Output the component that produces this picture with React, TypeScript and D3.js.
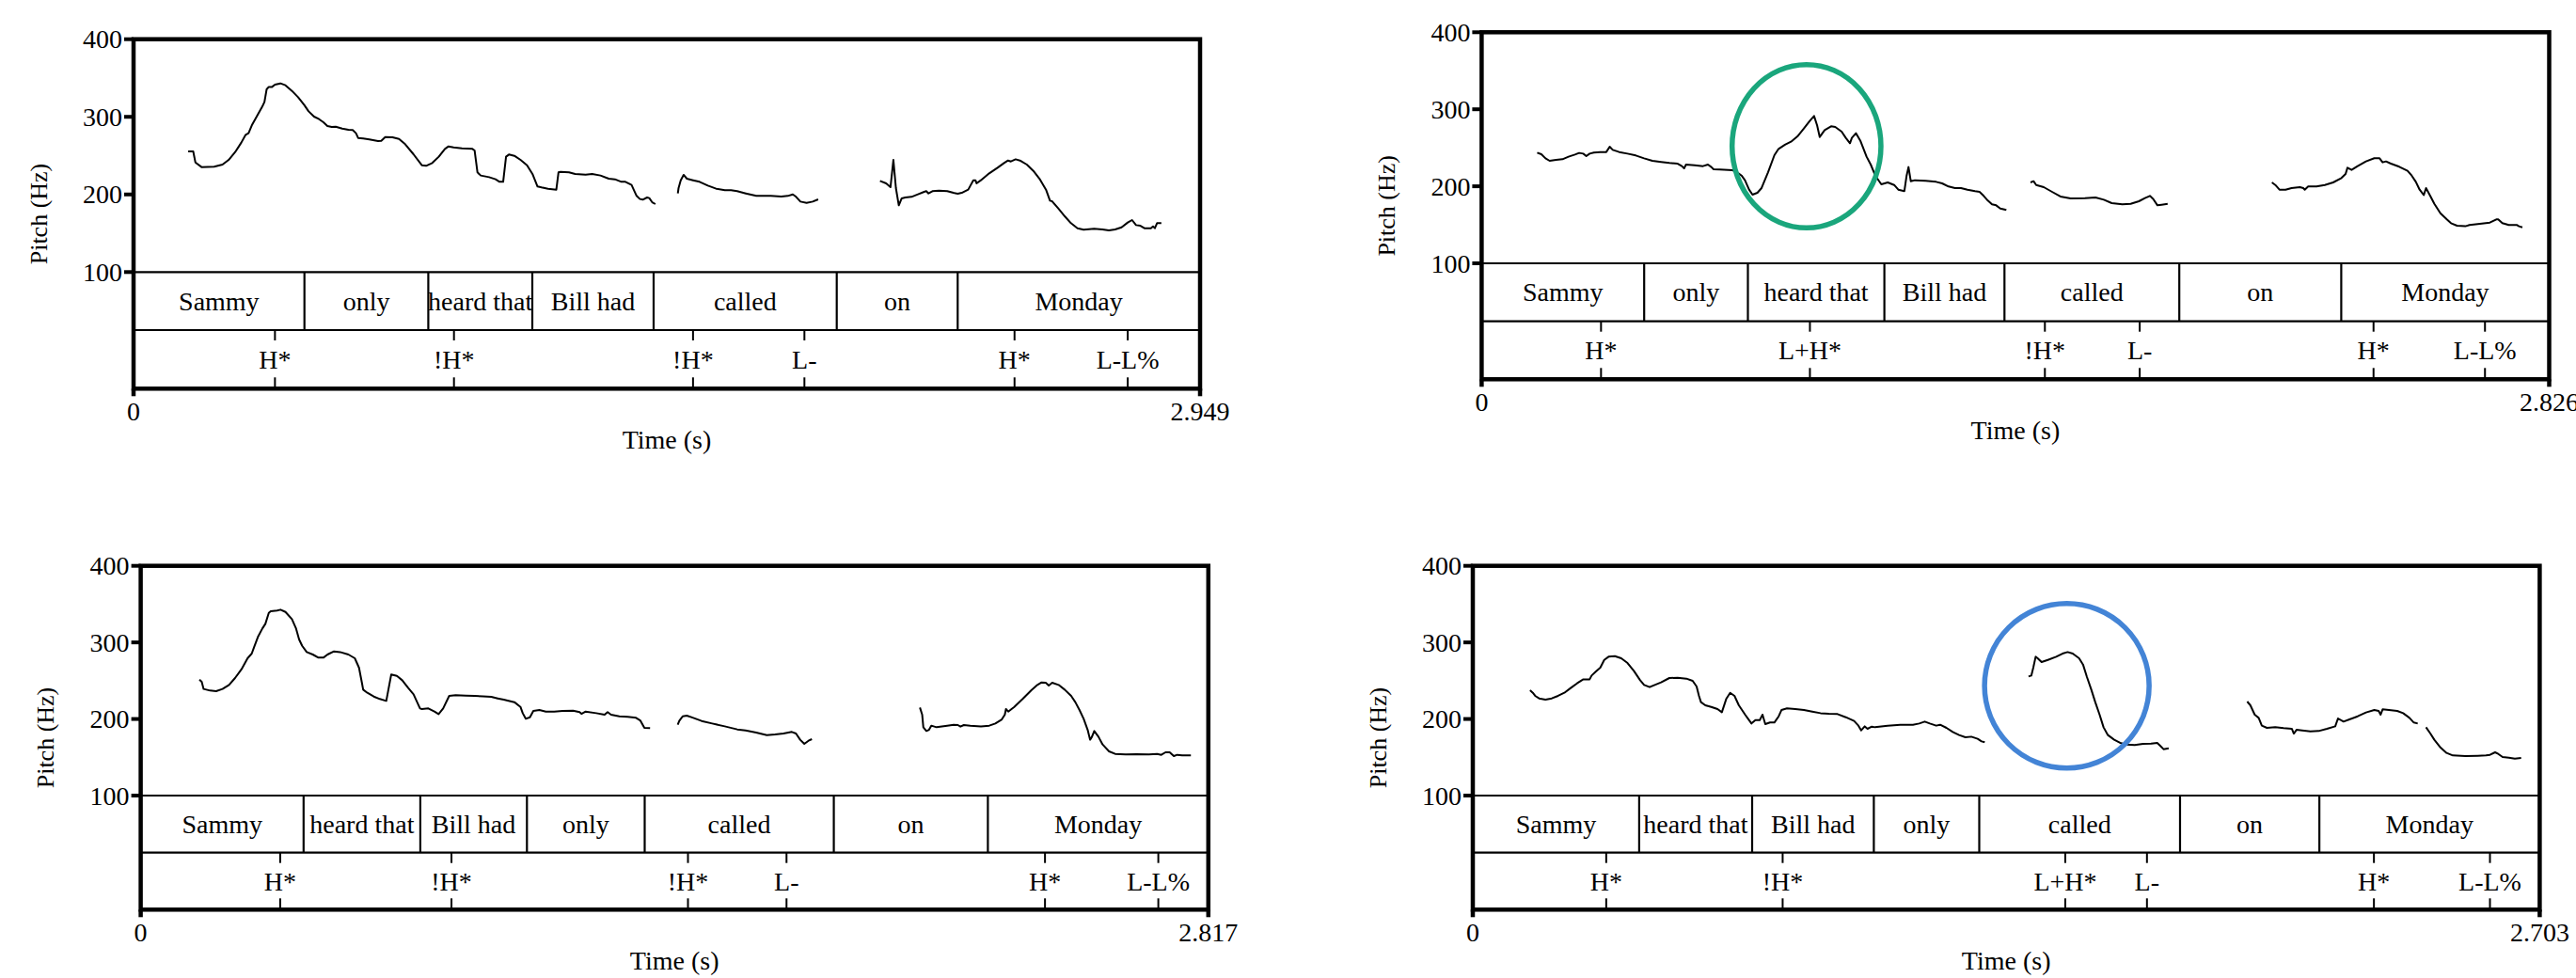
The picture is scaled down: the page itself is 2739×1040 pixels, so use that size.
import React, { useEffect } from 'react';
import * as d3 from 'd3';

type Pt = [number, number];

// ---------- Panel 1 (top-left) ----------
const p1Duration = 2.949;
const p1Words = ['Sammy', 'only', 'heard that', 'Bill had', 'called', 'on', 'Monday'];
const p1Bounds = [0, 0.4725, 0.815, 1.1026, 1.438, 1.9444, 2.2788, 2.949];
const p1Tones = ['H*', '!H*', '!H*', 'L-', 'H*', 'L-L%'];
const p1ToneTimes = [0.391, 0.886, 1.547, 1.855, 2.436, 2.749];
const p1SegA: Pt[] = [[0.151,255.4],[0.165,255.4],[0.171,241.3],[0.188,235.3],[0.223,235.7],[0.246,238.5],[0.263,244.5],[0.281,254.6],[0.298,266.8],[0.310,276.9],[0.318,278.9],[0.327,289.0],[0.339,299.1],[0.356,313.2],[0.362,319.3],[0.368,335.4],[0.374,338.6],[0.383,338.6],[0.391,341.5],[0.406,343.1],[0.420,340.7],[0.438,333.4],[0.455,325.3],[0.472,315.2],[0.484,307.1],[0.499,300.3],[0.513,297.0],[0.525,293.0],[0.536,288.2],[0.548,286.9],[0.559,287.3],[0.577,284.9],[0.594,283.3],[0.606,282.9],[0.615,278.9],[0.621,272.8],[0.635,272.0],[0.652,270.8],[0.676,268.8],[0.685,269.2],[0.696,274.0],[0.716,273.6],[0.734,271.6],[0.751,264.7],[0.774,251.8],[0.797,237.7],[0.809,236.9],[0.826,240.5],[0.844,248.6],[0.861,258.7],[0.871,261.9],[0.885,260.7],[0.908,259.5],[0.937,258.7],[0.943,256.7],[0.951,228.4],[0.960,224.4],[0.983,222.3],[1.001,219.5],[1.012,216.3],[1.022,216.3],[1.030,248.6],[1.038,251.4],[1.053,249.8],[1.070,244.5],[1.088,237.7],[1.103,226.4],[1.117,210.2],[1.128,209.0],[1.146,207.4],[1.169,206.2],[1.175,228.4],[1.181,229.2],[1.204,228.4],[1.221,226.4],[1.250,225.6],[1.268,226.4],[1.291,224.4],[1.314,220.3],[1.331,219.5],[1.349,216.3],[1.360,216.3],[1.377,212.2],[1.385,204.2],[1.391,198.1],[1.400,194.1],[1.408,193.3],[1.420,196.1],[1.426,195.3],[1.434,190.0],[1.443,187.6]];
const p1SegB: Pt[] = [[1.505,201.3],[1.507,208.2],[1.513,218.3],[1.521,225.2],[1.530,220.3],[1.547,218.3],[1.565,216.3],[1.588,211.4],[1.611,207.4],[1.635,205.4],[1.652,205.4],[1.669,204.2],[1.693,201.3],[1.722,198.1],[1.762,198.1],[1.791,197.3],[1.809,198.1],[1.823,200.1],[1.832,196.9],[1.844,190.8],[1.861,189.2],[1.878,190.8],[1.893,193.7]];
const p1SegC: Pt[] = [[2.064,217.5],[2.081,214.2],[2.093,209.4],[2.101,244.5],[2.108,208.2],[2.116,186.0],[2.124,194.9],[2.134,196.1],[2.151,196.9],[2.169,200.1],[2.186,203.3],[2.192,204.2],[2.198,201.3],[2.209,204.2],[2.227,205.0],[2.250,204.2],[2.267,202.1],[2.279,200.9],[2.290,202.1],[2.308,206.2],[2.314,211.4],[2.322,218.3],[2.328,218.3],[2.331,214.2],[2.343,218.3],[2.366,227.2],[2.389,234.4],[2.407,240.5],[2.418,243.7],[2.426,242.5],[2.439,245.3],[2.453,243.3],[2.470,238.5],[2.488,230.4],[2.505,220.3],[2.523,206.2],[2.534,192.0],[2.540,191.2],[2.557,181.9],[2.575,171.8],[2.592,163.0],[2.610,156.5],[2.627,154.5],[2.656,155.7],[2.679,154.9],[2.697,153.7],[2.714,154.9],[2.732,157.7],[2.749,163.8],[2.761,167.0],[2.772,160.5],[2.784,159.7],[2.795,156.5],[2.813,156.5],[2.819,158.9],[2.824,156.5],[2.830,163.0],[2.842,163.0]];

// ---------- Panel 2 (top-right) ----------
const p2Duration = 2.826;
const p2Words = ['Sammy', 'only', 'heard that', 'Bill had', 'called', 'on', 'Monday'];
const p2Bounds = [0, 0.4302, 0.7048, 1.0661, 1.384, 1.8468, 2.2755, 2.826];
const p2Tones = ['H*', 'L+H*', '!H*', 'L-', 'H*', 'L-L%'];
const p2ToneTimes = [0.316, 0.869, 1.491, 1.742, 2.361, 2.656];
const p2SegA: Pt[] = [[0.147,243.7],[0.158,241.6],[0.169,236.3],[0.180,233.1],[0.197,234.3],[0.214,235.1],[0.230,238.4],[0.247,241.2],[0.258,243.3],[0.269,242.4],[0.277,239.2],[0.286,242.4],[0.297,243.7],[0.314,244.5],[0.330,244.5],[0.339,251.4],[0.347,247.3],[0.364,244.5],[0.386,242.4],[0.408,240.0],[0.430,236.3],[0.452,233.1],[0.475,231.5],[0.497,230.2],[0.519,229.4],[0.530,226.2],[0.536,223.3],[0.541,228.2],[0.564,227.4],[0.586,226.2],[0.599,228.2],[0.608,225.0],[0.614,222.1],[0.630,221.7],[0.653,221.3],[0.664,220.9],[0.675,218.8],[0.688,213.9],[0.697,207.9],[0.708,195.7],[0.717,189.1],[0.730,191.6],[0.741,197.7],[0.758,218.0],[0.775,240.4],[0.786,248.6],[0.803,253.9],[0.819,257.9],[0.836,264.8],[0.853,275.0],[0.869,285.2],[0.880,291.3],[0.888,279.1],[0.895,264.0],[0.908,273.0],[0.925,277.9],[0.936,277.0],[0.953,270.9],[0.964,262.8],[0.975,255.9],[0.980,262.8],[0.991,268.9],[1.003,258.7],[1.019,238.4],[1.030,228.2],[1.042,213.9],[1.058,202.6],[1.075,205.0],[1.092,201.7],[1.103,195.6],[1.119,193.6],[1.125,213.9],[1.130,225.0],[1.136,206.6],[1.147,207.9],[1.175,207.0],[1.203,205.8],[1.219,203.8],[1.236,199.7],[1.253,197.7],[1.269,197.7],[1.286,195.6],[1.306,193.6],[1.318,192.8],[1.329,187.5],[1.340,181.4],[1.351,176.5],[1.362,175.3],[1.373,171.2],[1.389,169.2]];
const p2SegB: Pt[] = [[1.453,205.0],[1.461,206.6],[1.468,201.7],[1.488,198.9],[1.510,192.8],[1.532,186.7],[1.559,184.2],[1.597,184.7],[1.625,185.5],[1.647,182.6],[1.668,178.1],[1.696,176.5],[1.718,177.3],[1.740,180.6],[1.756,184.7],[1.769,187.5],[1.778,183.4],[1.789,175.3],[1.800,176.1],[1.816,177.3]];
const p2SegC: Pt[] = [[2.092,205.0],[2.101,201.7],[2.112,195.6],[2.128,195.6],[2.144,197.7],[2.166,198.9],[2.175,197.7],[2.179,195.6],[2.188,199.7],[2.210,199.7],[2.232,201.7],[2.254,205.0],[2.276,210.7],[2.287,216.0],[2.292,224.1],[2.303,221.3],[2.319,226.2],[2.341,232.3],[2.363,236.4],[2.377,236.4],[2.385,231.1],[2.394,232.3],[2.407,229.4],[2.429,225.4],[2.451,220.1],[2.462,213.9],[2.473,205.8],[2.483,195.6],[2.494,188.7],[2.500,197.7],[2.511,187.5],[2.522,177.3],[2.538,165.1],[2.555,157.0],[2.566,152.1],[2.582,148.9],[2.604,148.1],[2.615,149.7],[2.637,150.9],[2.669,152.9],[2.686,157.0],[2.691,157.0],[2.702,152.1],[2.719,149.7],[2.741,149.7],[2.746,148.1],[2.755,146.8]];
const p2Highlight = { t: 0.86, hz: 252, dt: 0.197, dhz: 106, color: '#1aa67c' };

// ---------- Panel 3 (bottom-left) ----------
const p3Duration = 2.817;
const p3Words = ['Sammy', 'heard that', 'Bill had', 'only', 'called', 'on', 'Monday'];
const p3Bounds = [0, 0.4298, 0.7378, 1.0191, 1.3298, 1.8288, 2.2353, 2.817];
const p3Tones = ['H*', '!H*', '!H*', 'L-', 'H*', 'L-L%'];
const p3ToneTimes = [0.368, 0.820, 1.444, 1.704, 2.386, 2.685];
const p3SegA: Pt[] = [[0.155,251.4],[0.161,248.6],[0.166,239.2],[0.183,237.1],[0.199,236.3],[0.216,239.2],[0.233,244.5],[0.249,253.5],[0.266,264.9],[0.282,279.3],[0.293,285.4],[0.299,293.6],[0.310,307.9],[0.321,318.1],[0.329,324.3],[0.338,338.6],[0.343,340.7],[0.360,341.5],[0.369,342.7],[0.382,339.8],[0.399,330.4],[0.410,318.1],[0.418,303.8],[0.426,295.6],[0.438,287.4],[0.454,284.2],[0.469,280.1],[0.482,280.1],[0.493,284.2],[0.510,288.3],[0.526,287.4],[0.548,284.2],[0.565,279.3],[0.576,267.0],[0.584,246.5],[0.587,238.3],[0.598,234.2],[0.615,229.3],[0.631,226.1],[0.648,223.6],[0.661,258.0],[0.676,256.3],[0.690,250.6],[0.706,240.4],[0.720,232.2],[0.737,213.8],[0.742,213.0],[0.759,213.8],[0.775,209.7],[0.786,206.4],[0.798,213.8],[0.814,230.2],[0.831,231.0],[0.858,230.6],[0.881,230.2],[0.903,229.7],[0.925,228.9],[0.942,226.9],[0.958,225.2],[0.986,222.0],[1.002,215.8],[1.008,207.6],[1.016,200.3],[1.027,202.3],[1.036,210.5],[1.052,211.7],[1.069,209.7],[1.091,209.7],[1.113,210.5],[1.141,210.9],[1.158,208.9],[1.163,206.8],[1.174,209.7],[1.202,207.6],[1.224,205.6],[1.232,208.9],[1.241,205.6],[1.263,203.5],[1.285,202.7],[1.307,201.5],[1.318,198.2],[1.329,188.4],[1.344,188.0]];
const p3SegB: Pt[] = [[1.417,192.5],[1.421,197.4],[1.430,203.5],[1.441,204.4],[1.458,201.5],[1.480,197.4],[1.508,194.1],[1.541,190.4],[1.574,186.4],[1.596,185.1],[1.624,182.3],[1.652,179.0],[1.674,179.8],[1.696,181.0],[1.718,183.1],[1.729,181.0],[1.740,172.9],[1.751,167.5],[1.762,171.6],[1.771,173.7]];
const p3SegC: Pt[] = [[2.056,215.0],[2.062,205.6],[2.065,189.2],[2.073,184.3],[2.080,185.9],[2.086,191.3],[2.100,189.2],[2.128,191.3],[2.145,192.5],[2.156,192.1],[2.163,190.0],[2.172,192.1],[2.189,191.3],[2.217,190.4],[2.239,191.3],[2.255,194.1],[2.272,199.4],[2.280,205.6],[2.283,213.0],[2.289,209.7],[2.305,215.8],[2.327,226.1],[2.350,237.5],[2.366,244.5],[2.377,247.7],[2.388,247.3],[2.396,243.7],[2.405,247.3],[2.422,244.5],[2.438,238.3],[2.455,230.2],[2.466,222.0],[2.477,211.7],[2.488,200.3],[2.499,185.1],[2.505,172.9],[2.510,176.9],[2.516,184.3],[2.527,176.9],[2.538,166.7],[2.555,157.7],[2.571,154.4],[2.599,153.6],[2.627,154.0],[2.660,153.6],[2.682,154.4],[2.693,153.2],[2.704,156.5],[2.715,156.5],[2.726,151.6],[2.735,153.2],[2.748,152.4],[2.771,152.4]];

// ---------- Panel 4 (bottom-right) ----------
const p4Duration = 2.703;
const p4Words = ['Sammy', 'heard that', 'Bill had', 'only', 'called', 'on', 'Monday'];
const p4Bounds = [0, 0.4215, 0.7077, 1.016, 1.2831, 1.7918, 2.1448, 2.703];
const p4Tones = ['H*', '!H*', 'L+H*', 'L-', 'H*', 'L-L%'];
const p4ToneTimes = [0.338, 0.785, 1.501, 1.708, 2.283, 2.577];
const p4SegA: Pt[] = [[0.145,237.5],[0.152,234.2],[0.158,230.2],[0.168,226.9],[0.184,225.2],[0.200,226.9],[0.216,230.2],[0.232,234.2],[0.248,240.4],[0.264,246.5],[0.280,251.8],[0.296,251.8],[0.301,256.7],[0.312,262.1],[0.323,267.0],[0.333,277.2],[0.344,281.3],[0.360,282.1],[0.376,279.3],[0.392,273.1],[0.408,262.9],[0.424,250.6],[0.434,244.5],[0.448,241.6],[0.461,244.5],[0.477,247.8],[0.498,253.5],[0.519,253.9],[0.541,252.7],[0.557,249.8],[0.567,242.4],[0.573,230.2],[0.578,222.0],[0.589,217.9],[0.604,215.8],[0.620,213.0],[0.631,208.9],[0.642,226.1],[0.652,234.2],[0.663,230.2],[0.674,217.9],[0.690,205.6],[0.706,194.1],[0.716,198.6],[0.727,198.6],[0.734,205.6],[0.741,193.3],[0.753,195.4],[0.764,195.4],[0.775,203.5],[0.782,211.7],[0.796,213.8],[0.817,213.0],[0.839,211.7],[0.860,209.7],[0.881,207.6],[0.902,206.8],[0.924,206.4],[0.945,202.3],[0.966,197.4],[0.977,191.3],[0.984,185.1],[0.993,190.4],[1.000,187.2],[1.011,190.0],[1.019,189.2],[1.051,191.3],[1.083,192.5],[1.115,192.5],[1.131,194.1],[1.145,196.6],[1.158,194.1],[1.174,191.3],[1.184,192.5],[1.200,188.4],[1.216,183.1],[1.232,179.0],[1.248,176.1],[1.263,176.9],[1.279,174.1],[1.289,170.8],[1.297,169.6]];
const p4SegB: Pt[] = [[1.408,255.5],[1.415,256.7],[1.420,267.0],[1.426,281.3],[1.431,279.3],[1.441,274.3],[1.457,277.2],[1.478,281.3],[1.494,285.4],[1.507,287.4],[1.520,285.4],[1.536,279.3],[1.546,271.1],[1.556,254.7],[1.567,238.3],[1.577,222.0],[1.588,205.6],[1.598,189.2],[1.609,179.0],[1.625,172.9],[1.640,168.8],[1.656,166.7],[1.677,165.9],[1.698,167.5],[1.719,167.9],[1.734,168.8],[1.742,164.7],[1.750,160.6],[1.763,161.8]];
const p4SegC: Pt[] = [[1.962,222.8],[1.970,217.9],[1.981,205.6],[1.991,201.5],[1.999,191.3],[2.012,188.4],[2.033,189.2],[2.054,188.0],[2.075,187.2],[2.080,181.0],[2.087,185.9],[2.101,185.1],[2.122,183.9],[2.143,184.3],[2.164,187.2],[2.185,190.4],[2.192,200.7],[2.206,196.6],[2.221,199.4],[2.242,203.5],[2.263,208.5],[2.284,211.7],[2.295,210.5],[2.300,205.6],[2.305,212.6],[2.321,211.7],[2.342,210.5],[2.357,207.6],[2.373,201.5],[2.384,195.4],[2.394,194.1]];
const p4SegD: Pt[] = [[2.415,189.2],[2.426,181.0],[2.436,172.9],[2.452,162.6],[2.467,155.7],[2.483,152.4],[2.515,151.6],[2.546,152.0],[2.567,152.4],[2.577,153.2],[2.590,156.5],[2.598,154.4],[2.609,150.3],[2.625,149.5],[2.640,148.3],[2.656,149.1]];
const p4Highlight = { t: 1.505, hz: 243.4, dt: 0.2085, dhz: 107.5, color: '#4384d6' };

const pitchTicks = [100, 200, 300, 400];

// ---------- layout (pixels) ----------
const layouts = [
  { left: 142, right: 1276, top: 41.7, y100: 289.3, sep: 351, bottom: 413.3 },
  { left: 1575.4, right: 2710.5, top: 34.3, y100: 280, sep: 341.7, bottom: 403.3 },
  { left: 149.6, right: 1284.8, top: 601.7, y100: 846, sep: 906.7, bottom: 967.3 },
  { left: 1566, right: 2700.4, top: 601.7, y100: 846, sep: 906.7, bottom: 967.3 },
];

const FONT = '"Liberation Serif", "Times New Roman", Times, serif';

type Layout = typeof layouts[number];
interface PanelProps {
  layout: Layout;
  duration: number;
  words: string[];
  bounds: number[];
  tones: string[];
  toneTimes: number[];
  segments: Pt[][];
  highlight?: { t: number; hz: number; dt: number; dhz: number; color: string };
}

function Panel({ layout, duration, words, bounds, tones, toneTimes, segments, highlight }: PanelProps) {
  const x = d3.scaleLinear().domain([0, duration]).range([layout.left, layout.right]);
  const y = d3.scaleLinear().domain([100, 400]).range([layout.y100, layout.top]);
  const line = d3.line<Pt>().x((d) => x(d[0])).y((d) => y(d[1]));
  const wordMid = (layout.y100 + layout.sep) / 2;
  const toneMid = (layout.sep + layout.bottom) / 2;
  const thick = 4.5;
  const thin = 2.2;
  const midX = (layout.left + layout.right) / 2;
  const midY = (layout.top + layout.bottom) / 2;
  return (
    <g fontFamily={FONT} fill="#000">
      {segments.map((s, i) => (
        <path key={i} d={line(s) || ''} fill="none" stroke="#000" strokeWidth={2} strokeLinejoin="round" strokeLinecap="butt" />
      ))}
      {/* tier lines */}
      <line x1={layout.left} x2={layout.right} y1={y(100)} y2={y(100)} stroke="#000" strokeWidth={thin} />
      <line x1={layout.left} x2={layout.right} y1={layout.sep} y2={layout.sep} stroke="#000" strokeWidth={thin} />
      {bounds.slice(1, -1).map((b, i) => (
        <line key={i} x1={x(b)} x2={x(b)} y1={y(100)} y2={layout.sep} stroke="#000" strokeWidth={thin} />
      ))}
      {words.map((w, i) => (
        <text key={i} x={x((bounds[i] + bounds[i + 1]) / 2)} y={wordMid + 9.5} textAnchor="middle" fontSize={28}>
          {w}
        </text>
      ))}
      {toneTimes.map((t, i) => (
        <g key={i}>
          <line x1={x(t)} x2={x(t)} y1={layout.sep} y2={layout.sep + 11} stroke="#000" strokeWidth={2} />
          <line x1={x(t)} x2={x(t)} y1={layout.bottom - 12} y2={layout.bottom} stroke="#000" strokeWidth={2} />
          <text x={x(t)} y={toneMid + 9.5} textAnchor="middle" fontSize={28}>
            {tones[i]}
          </text>
        </g>
      ))}
      {/* frame */}
      <rect x={layout.left} y={layout.top} width={layout.right - layout.left} height={layout.bottom - layout.top} fill="none" stroke="#000" strokeWidth={thick} />
      <line x1={layout.left} x2={layout.left} y1={layout.bottom} y2={layout.bottom + 8} stroke="#000" strokeWidth={thick} />
      <line x1={layout.right} x2={layout.right} y1={layout.bottom} y2={layout.bottom + 8} stroke="#000" strokeWidth={thick} />
      {/* pitch ticks */}
      {pitchTicks.map((v) => (
        <g key={v}>
          <line x1={layout.left - 10} x2={layout.left} y1={y(v)} y2={y(v)} stroke="#000" strokeWidth={4} />
          <text x={layout.left - 12} y={y(v) + 9.5} textAnchor="end" fontSize={28}>
            {v}
          </text>
        </g>
      ))}
      <text x={x(0)} y={layout.bottom + 34} textAnchor="middle" fontSize={28}>0</text>
      <text x={x(duration)} y={layout.bottom + 34} textAnchor="middle" fontSize={28}>{duration.toFixed(3)}</text>
      <text x={midX} y={layout.bottom + 64} textAnchor="middle" fontSize={28}>Time (s)</text>
      <text transform={`translate(${layout.left - 101},${midY}) rotate(-90)`} textAnchor="middle" dominantBaseline="central" fontSize={26}>
        Pitch (Hz)
      </text>
      {highlight && (
        <ellipse
          cx={x(highlight.t)}
          cy={y(highlight.hz)}
          rx={x(highlight.t + highlight.dt) - x(highlight.t)}
          ry={y(highlight.hz - highlight.dhz) - y(highlight.hz)}
          fill="none"
          stroke={highlight.color}
          strokeWidth={5.5}
        />
      )}
    </g>
  );
}

export default function App() {
  useEffect(() => {
    document.body.style.margin = '0';
    document.body.style.overflow = 'hidden';
  }, []);
  return (
    <svg width={2739} height={1040} style={{ position: 'absolute', left: 0, top: 0, background: '#fff' }}>
      <rect x={0} y={0} width={2739} height={1040} fill="#fff" />
      <Panel layout={layouts[0]} duration={p1Duration} words={p1Words} bounds={p1Bounds} tones={p1Tones} toneTimes={p1ToneTimes} segments={[p1SegA, p1SegB, p1SegC]} />
      <Panel layout={layouts[1]} duration={p2Duration} words={p2Words} bounds={p2Bounds} tones={p2Tones} toneTimes={p2ToneTimes} segments={[p2SegA, p2SegB, p2SegC]} highlight={p2Highlight} />
      <Panel layout={layouts[2]} duration={p3Duration} words={p3Words} bounds={p3Bounds} tones={p3Tones} toneTimes={p3ToneTimes} segments={[p3SegA, p3SegB, p3SegC]} />
      <Panel layout={layouts[3]} duration={p4Duration} words={p4Words} bounds={p4Bounds} tones={p4Tones} toneTimes={p4ToneTimes} segments={[p4SegA, p4SegB, p4SegC, p4SegD]} highlight={p4Highlight} />
    </svg>
  );
}
